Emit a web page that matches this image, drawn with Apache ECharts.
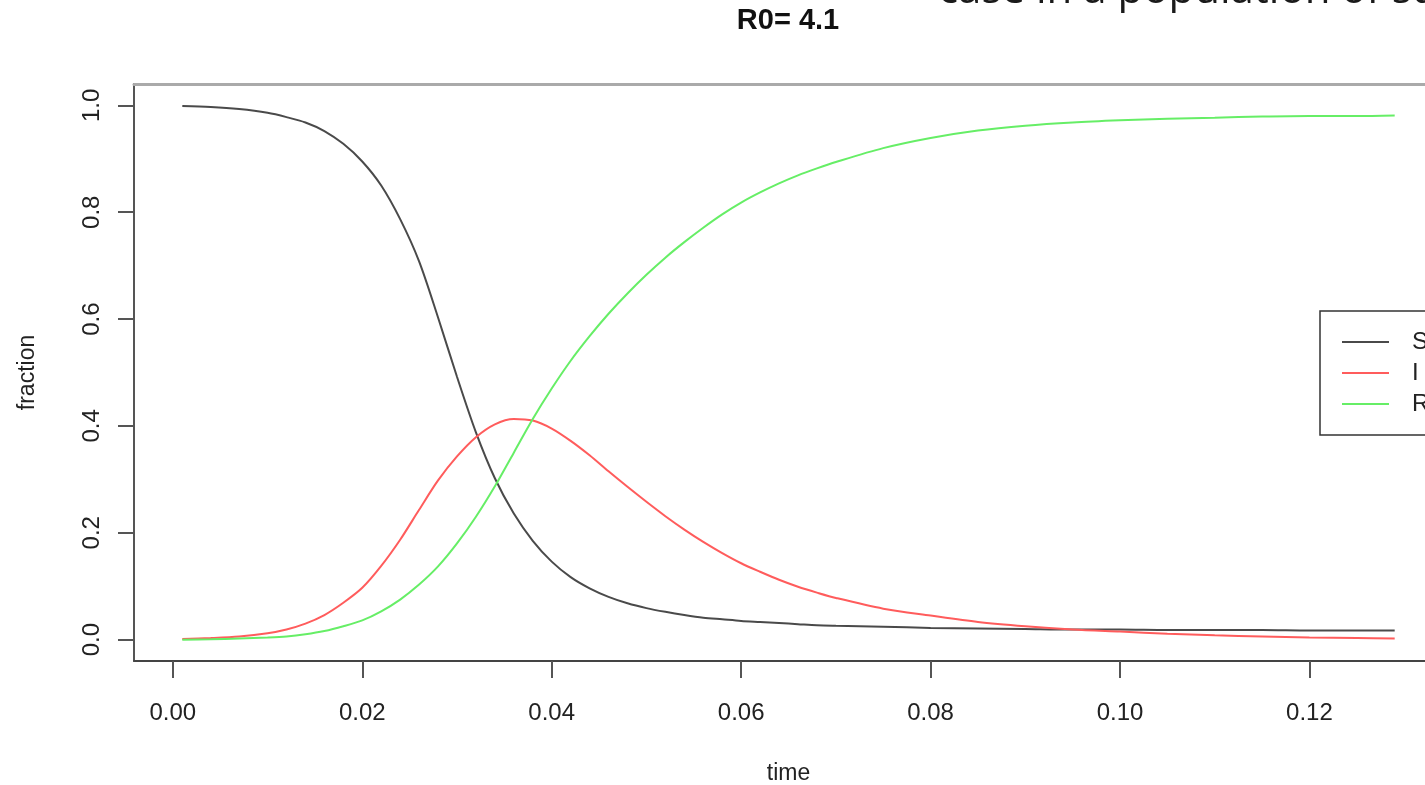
<!DOCTYPE html>
<html>
<head>
<meta charset="utf-8">
<style>html,body{margin:0;padding:0;background:#fff;}#c{width:1425px;height:785px;}</style>
<script src="https://cdn.jsdelivr.net/npm/echarts@6/dist/echarts.min.js"></script>
</head>
<body>
<div id="c"></div>
<script>
const time = [0.001,0.004,0.007,0.010,0.012,0.014,0.016,0.018,0.020,0.022,0.024,0.026,0.028,0.030,0.032,0.034,0.036,0.038,0.040,0.042,0.044,0.046,0.048,0.050,0.052,0.054,0.056,0.058,0.060,0.062,0.064,0.066,0.068,0.070,0.075,0.080,0.085,0.090,0.095,0.100,0.105,0.110,0.115,0.120,0.125,0.129];
const S = [0.999,0.997,0.993,0.986,0.978,0.968,0.952,0.928,0.895,0.850,0.787,0.708,0.603,0.492,0.388,0.302,0.236,0.185,0.146,0.117,0.096,0.08,0.068,0.059,0.052,0.046,0.041,0.038,0.035,0.033,0.031,0.029,0.027,0.026,0.024,0.022,0.021,0.020,0.019,0.019,0.018,0.018,0.018,0.017,0.017,0.017];
const I = [0.001,0.003,0.006,0.012,0.019,0.03,0.046,0.069,0.097,0.138,0.187,0.243,0.298,0.343,0.379,0.403,0.413,0.410,0.395,0.372,0.345,0.315,0.286,0.258,0.231,0.206,0.183,0.162,0.143,0.127,0.112,0.099,0.088,0.078,0.058,0.045,0.033,0.025,0.019,0.015,0.011,0.008,0.006,0.004,0.003,0.002];
const R = [0,0.0005,0.002,0.004,0.006,0.01,0.016,0.025,0.036,0.053,0.075,0.103,0.137,0.18,0.23,0.287,0.35,0.413,0.47,0.522,0.568,0.61,0.648,0.683,0.715,0.744,0.771,0.796,0.818,0.837,0.854,0.869,0.882,0.894,0.920,0.939,0.953,0.962,0.968,0.972,0.975,0.977,0.979,0.98,0.98,0.981];
const xTicks = [0,0.02,0.04,0.06,0.08,0.10,0.12];
const yTicks = [0,0.2,0.4,0.6,0.8,1.0];
const seriesNames = ['S','I','R'];
const titleText = 'R0= 4.1';
const xName = 'time';
const yName = 'fraction';
const topText = 'case in a population of susceptibles';

const chart = echarts.init(document.getElementById('c'), null, {renderer:'canvas'});
const FONT = 'Liberation Sans, Arial, sans-serif';
const colors = ['#4a4a4a','#ff5c5c','#66ee66'];
const pairs = arr => time.map((t,i)=>[t,arr[i]]);

chart.setOption({
  animation:false,
  backgroundColor:'#fff',
  textStyle:{fontFamily:FONT},
  grid:{left:134, top:84, width:1309, height:577, show:false, outerBoundsMode:'none', containLabel:false},
  graphic:[
    {type:'text', x:788, y:21, style:{text:titleText, font:'bold 29px '+FONT, fill:'#111', align:'center', verticalAlign:'middle'}},
    {type:'text', x:938, y:-9, style:{text:topText, font:'42px "Open Sans", sans-serif', fill:'#1a1a1a', align:'left', verticalAlign:'middle'}}
  ],
  legend:{
    orient:'vertical', left:1320, top:311,
    data:seriesNames,
    icon:'rect', itemWidth:47, itemHeight:2, itemGap:7,
    padding:[19,40,19,22],
    borderColor:'#333', borderWidth:1.5,
    textStyle:{fontSize:24, color:'#222', fontFamily:FONT, padding:[0,0,0,18], lineHeight:24}
  },
  xAxis:[{
    type:'value', min:-0.0041, max:0.1341,
    name:xName, nameLocation:'middle', nameGap:101,
    nameTextStyle:{fontSize:23, color:'#222', fontFamily:FONT},
    axisLine:{show:true, onZero:false, lineStyle:{color:'#444', width:2}},
    axisTick:{show:true, length:17, customValues:xTicks, lineStyle:{color:'#555', width:2}},
    axisLabel:{show:true, customValues:xTicks, margin:40, fontSize:24, color:'#222', fontFamily:FONT, formatter:v=>v.toFixed(2)},
    splitLine:{show:false}
  },{
    type:'value', position:'top', min:-0.0041, max:0.1341,
    axisLine:{show:true, onZero:false, lineStyle:{color:'#aaa', width:3}},
    axisTick:{show:false}, axisLabel:{show:false}, splitLine:{show:false}
  }],
  yAxis:[{
    type:'value', min:-0.04, max:1.04,
    name:yName, nameLocation:'middle', nameGap:95, nameRotate:90,
    nameTextStyle:{fontSize:23, color:'#222', fontFamily:FONT},
    axisLine:{show:true, onZero:false, lineStyle:{color:'#555', width:2}},
    axisTick:{show:true, length:16, customValues:yTicks, lineStyle:{color:'#555', width:2}},
    axisLabel:{show:true, customValues:yTicks, rotate:90, margin:30, fontSize:24, color:'#222', fontFamily:FONT, formatter:v=>v.toFixed(1)},
    splitLine:{show:false}
  }],
  series:seriesNames.map((n,k)=>({
    name:n, type:'line', data:pairs([S,I,R][k]), showSymbol:false, symbol:'none',
    smooth:0.3, color:colors[k],
    lineStyle:{color:colors[k], width:2}, xAxisIndex:0, yAxisIndex:0
  }))
});
</script>
</body>
</html>
